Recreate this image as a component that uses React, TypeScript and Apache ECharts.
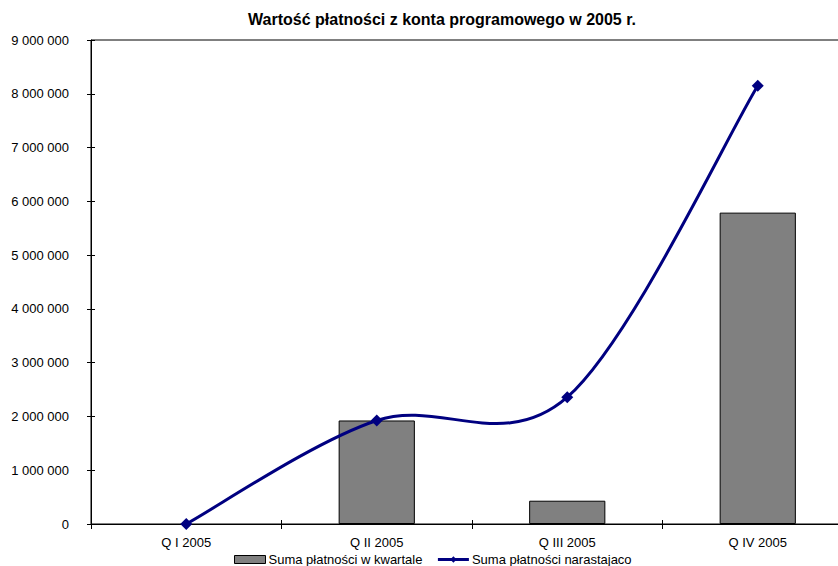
import React, { useEffect, useRef } from "react";
import * as echarts from "echarts";

const categories = ["Q I 2005", "Q II 2005", "Q III 2005", "Q IV 2005"];
const quarterly = [0, 1925000, 433000, 5790000];
const cumulative = [0, 1925000, 2358000, 8148000];
const titleText = "Wartość płatności z konta programowego w 2005 r.";
const barName = "Suma płatności w kwartale";
const lineName = "Suma płatności narastajaco";

const fmt = (v: number) => String(v).replace(/\B(?=(\d{3})+(?!\d))/g, " ");

export default function App() {
  const ref = useRef<HTMLDivElement>(null);
  useEffect(() => {
    if (!ref.current) return;
    const chart = echarts.init(ref.current, null, { renderer: "svg" });
    const font = "Arial, 'Liberation Sans', sans-serif";
    const navy = "#000080";

    const renderCurve = (params: any, api: any) => {
      if (params.dataIndex !== 0) return null;
      const pts = cumulative.map((v, i) => api.coord([i, v]));
      const n = pts.length;
      const P = (i: number) => pts[Math.max(0, Math.min(n - 1, i))];
      let d = `M${pts[0][0]},${pts[0][1]}`;
      for (let i = 0; i < n - 1; i++) {
        const p0 = P(i - 1), p1 = P(i), p2 = P(i + 1), p3 = P(i + 2);
        const c1x = p1[0] + (p2[0] - p0[0]) / 6;
        const c1y = p1[1] + (p2[1] - p0[1]) / 6;
        const c2x = p2[0] - (p3[0] - p1[0]) / 6;
        const c2y = p2[1] - (p3[1] - p1[1]) / 6;
        d += ` C${c1x},${c1y} ${c2x},${c2y} ${p2[0]},${p2[1]}`;
      }
      return {
        type: "path",
        shape: { pathData: d },
        style: { stroke: navy, lineWidth: 3, fill: "none" },
      };
    };

    chart.setOption({
      animation: false,
      backgroundColor: "#ffffff",
      textStyle: { fontFamily: font },
      title: {
        text: titleText,
        left: 442,
        textAlign: "center",
        top: 11,
        padding: 0,
        textStyle: { fontSize: 16, fontWeight: "bold", color: "#000", fontFamily: font },
      },
      legend: {
        left: 234,
        top: 553,
        padding: 0,
        itemWidth: 31,
        itemHeight: 8,
        itemGap: 14,
        textStyle: { fontSize: 13, color: "#000", fontFamily: font, padding: [0, 0, 0, -2] },
        data: [
          { name: barName, icon: "rect", itemStyle: { color: "#808080", borderColor: "#000", borderWidth: 1 } },
          { name: lineName, lineStyle: { opacity: 1, width: 3, color: navy } },
        ],
      },
      grid: {
        left: 91,
        top: 40,
        right: -15,
        bottom: 42,
        show: true,
        borderColor: "#000",
        borderWidth: 1,
        outerBoundsMode: "none",
      },
      xAxis: [
        {
          type: "category",
          data: categories,
          boundaryGap: true,
          axisLine: { lineStyle: { color: "#000", width: 1 } },
          axisTick: { show: true, length: 5, lineStyle: { color: "#000" } },
          axisLabel: { color: "#000", fontSize: 13, margin: 12, fontFamily: font },
        },
        {
          type: "category",
          data: categories,
          position: "bottom",
          boundaryGap: true,
          axisLine: { show: false },
          axisTick: { show: true, inside: true, length: 4, lineStyle: { color: "#000" } },
          axisLabel: { show: false },
        },
      ],
      yAxis: [
        {
          type: "value",
          min: 0,
          max: 9000000,
          interval: 1000000,
          axisLine: { show: true, lineStyle: { color: "#000", width: 1 } },
          axisTick: { show: true, length: 4, lineStyle: { color: "#000" } },
          axisLabel: { color: "#000", fontSize: 13, margin: 22, formatter: fmt, fontFamily: font },
          splitLine: { show: false },
        },
        {
          type: "value",
          min: 0,
          max: 9000000,
          interval: 1000000,
          position: "left",
          axisLine: { show: false },
          axisTick: { show: true, inside: true, length: 4, lineStyle: { color: "#000" } },
          axisLabel: { show: false },
          splitLine: { show: false },
        },
      ],
      series: [
        {
          name: barName,
          type: "bar",
          data: quarterly.map((v) => (v === 0 ? "-" : v)),
          barWidth: "40%",
          itemStyle: { color: "#808080", borderColor: "#000", borderWidth: 1 },
        },
        {
          type: "custom",
          name: "_curve",
          data: cumulative.map((v, i) => [i, v]),
          encode: { x: 0, y: 1 },
          renderItem: renderCurve,
          silent: true,
          z: 3,
        },
        {
          name: lineName,
          type: "line",
          data: cumulative,
          symbol: "diamond",
          symbolSize: [12, 12],
          lineStyle: { color: navy, width: 3, opacity: 0 },
          itemStyle: { color: navy },
          z: 4,
        },
      ],
    });
    return () => chart.dispose();
  }, []);
  return <div ref={ref} style={{ position: "fixed", left: 0, top: 0, width: 838, height: 566 }} />;
}
